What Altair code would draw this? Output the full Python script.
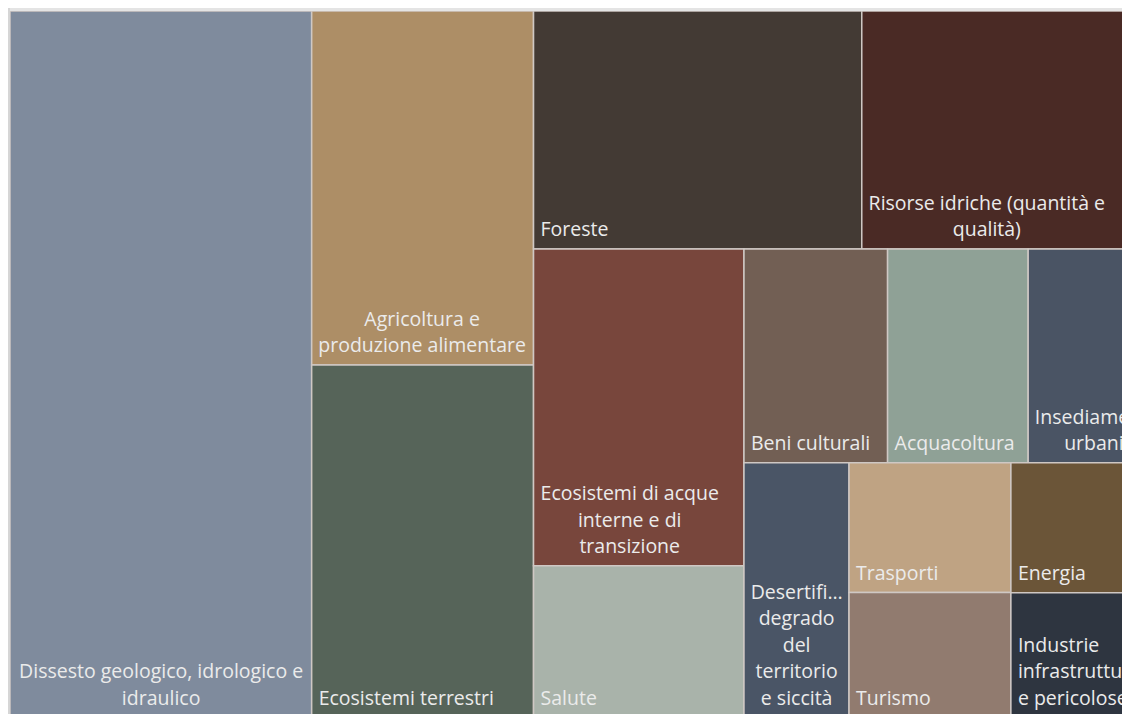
import altair as alt
import pandas as pd

# ---------------- data ----------------
categories = [
    "Dissesto geologico, idrologico e idraulico",
    "Agricoltura e produzione alimentare",
    "Ecosistemi terrestri",
    "Foreste",
    "Risorse idriche (quantità e qualità)",
    "Ecosistemi di acque interne e di transizione",
    "Salute",
    "Beni culturali",
    "Acquacoltura",
    "Insediamenti urbani",
    "Desertificazione, degrado del territorio e siccità",
    "Trasporti",
    "Turismo",
    "Energia",
    "Industrie e infrastrutture pericolose",
]
values = [26.23, 9.67, 9.62, 9.62, 8.74, 8.21, 3.92, 3.78, 3.70, 3.47, 3.29, 2.59, 2.48, 2.39, 2.28]
labels = [
    "Dissesto geologico, idrologico e\nidraulico",
    "Agricoltura e\nproduzione alimentare",
    "Ecosistemi terrestri",
    "Foreste",
    "Risorse idriche (quantità e\nqualità)",
    "Ecosistemi di acque\ninterne e di\ntransizione",
    "Salute",
    "Beni culturali",
    "Acquacoltura",
    "Insediamenti\nurbani",
    "Desertifi…\ndegrado\ndel\nterritorio\ne siccità",
    "Trasporti",
    "Turismo",
    "Energia",
    "Industrie\ninfrastrutture\ne pericolose",
]
colors = [
    "#7f8b9d", "#ad8e66", "#566459", "#433a34", "#4a2a25",
    "#78463c", "#a9b3aa", "#725f54", "#8fa196", "#4a5464",
    "#4a5566", "#bfa383", "#917b6f", "#6b5538", "#2e3540",
]
# strips of the treemap (indices into categories), laid along the shorter side
strips = [[0], [1, 2], [3, 4], [5, 6], [7, 8, 9], [10], [11, 12], [13], [14]]
left_aligned = {14}

# ---------------- layout ----------------
TREE_W, TREE_H = 1150.0, 706.0   # full treemap size (px); right/bottom part is cut off
VIEW_W, VIEW_H = 1112, 703       # visible plot area

def treemap(vals, groups, w, h):
    x0, y0 = 0.0, 0.0
    unit = (w * h) / sum(vals)
    out = {}
    for g in groups:
        s = sum(vals[i] for i in g) * unit
        if w >= h:
            t = s / h
            yy = y0
            for i in g:
                hh = vals[i] * unit / t
                out[i] = (x0, x0 + t, yy, yy + hh)
                yy += hh
            x0 += t
            w -= t
        else:
            t = s / w
            xx = x0
            for i in g:
                ww = vals[i] * unit / t
                out[i] = (xx, xx + ww, y0, y0 + t)
                xx += ww
            y0 += t
            h -= t
    return out

FONT_SIZE = 19.5
ADV = {"i": 258, "l": 258, "j": 258, "t": 352, "f": 319, "r": 414, " ": 260,
       ",": 246, ".": 246, "(": 296, ")": 296, "…": 754, "m": 925, "w": 815,
       "s": 477, "c": 492, "z": 469, "a": 556, "à": 556, "e": 561, "o": 602,
       "D": 729, "R": 623, "E": 556, "A": 633, "I": 279, "S": 549}

def text_w(line):
    return sum(ADV.get(ch, 600) for ch in line) / 1000.0 * FONT_SIZE

boxes = treemap(values, strips, TREE_W, TREE_H)
PAD, BASE_OFF, LH = 7, 12.5, 26.5
rows = []
for i, name in enumerate(categories):
    a, b, c, d = boxes[i]
    lines = labels[i].split("\n")
    n = len(lines)
    if n == 1 or i in left_aligned:
        al = "left"
        tx = a + PAD
    else:
        al = "center"
        bw = max(text_w(l) for l in lines)
        tx = a + PAD + bw / 2
    ty = d - BASE_OFF - (n - 1) * LH
    rows.append(dict(name=name, value=values[i], x0=a, x1=b, y0=c, y1=d,
                     label=labels[i], tx=tx, ty=ty, al=al))
df = pd.DataFrame(rows)

xs = alt.Scale(domain=[0, VIEW_W], nice=False, zero=False)
ys = alt.Scale(domain=[0, VIEW_H], nice=False, zero=False, reverse=True)

rects = alt.Chart(df).mark_rect(clip=True, stroke="#cfc8c4", strokeWidth=1.5).encode(
    x=alt.X("x0:Q", scale=xs, axis=None),
    x2="x1:Q",
    y=alt.Y("y0:Q", scale=ys, axis=None),
    y2="y1:Q",
    color=alt.Color("name:N", scale=alt.Scale(domain=categories, range=colors), legend=None),
    tooltip=["name:N", "value:Q"],
)

def text_layer(al):
    return alt.Chart(df).transform_filter(alt.datum.al == al).mark_text(
        clip=True, font="Open Sans", fontSize=FONT_SIZE, color="#ebebeb", align=al,
        baseline="alphabetic", lineBreak="\n", lineHeight=LH,
    ).encode(
        x=alt.X("tx:Q", scale=xs, axis=None),
        y=alt.Y("ty:Q", scale=ys, axis=None),
        text="label:N",
    )

one = pd.DataFrame({"k": [0]})
top_band = alt.Chart(one).mark_rect(color="#e4e4e4").encode(
    x=alt.value(-2), x2=alt.value(VIEW_W), y=alt.value(-3), y2=alt.value(0))
left_band = alt.Chart(one).mark_rect(color="#d6d6d6").encode(
    x=alt.value(-2), x2=alt.value(0), y=alt.value(-3), y2=alt.value(VIEW_H))

chart = alt.layer(top_band, left_band, rects, text_layer("left"), text_layer("center")).properties(
    width=VIEW_W, height=VIEW_H,
    padding={"left": 2, "top": 3, "right": 0, "bottom": 0},
    autosize=alt.AutoSizeParams(type="none"),
    background="#ffffff",
).configure_view(stroke=None)

chart.save("out.html", embed_options={"renderer": "svg", "actions": False})
